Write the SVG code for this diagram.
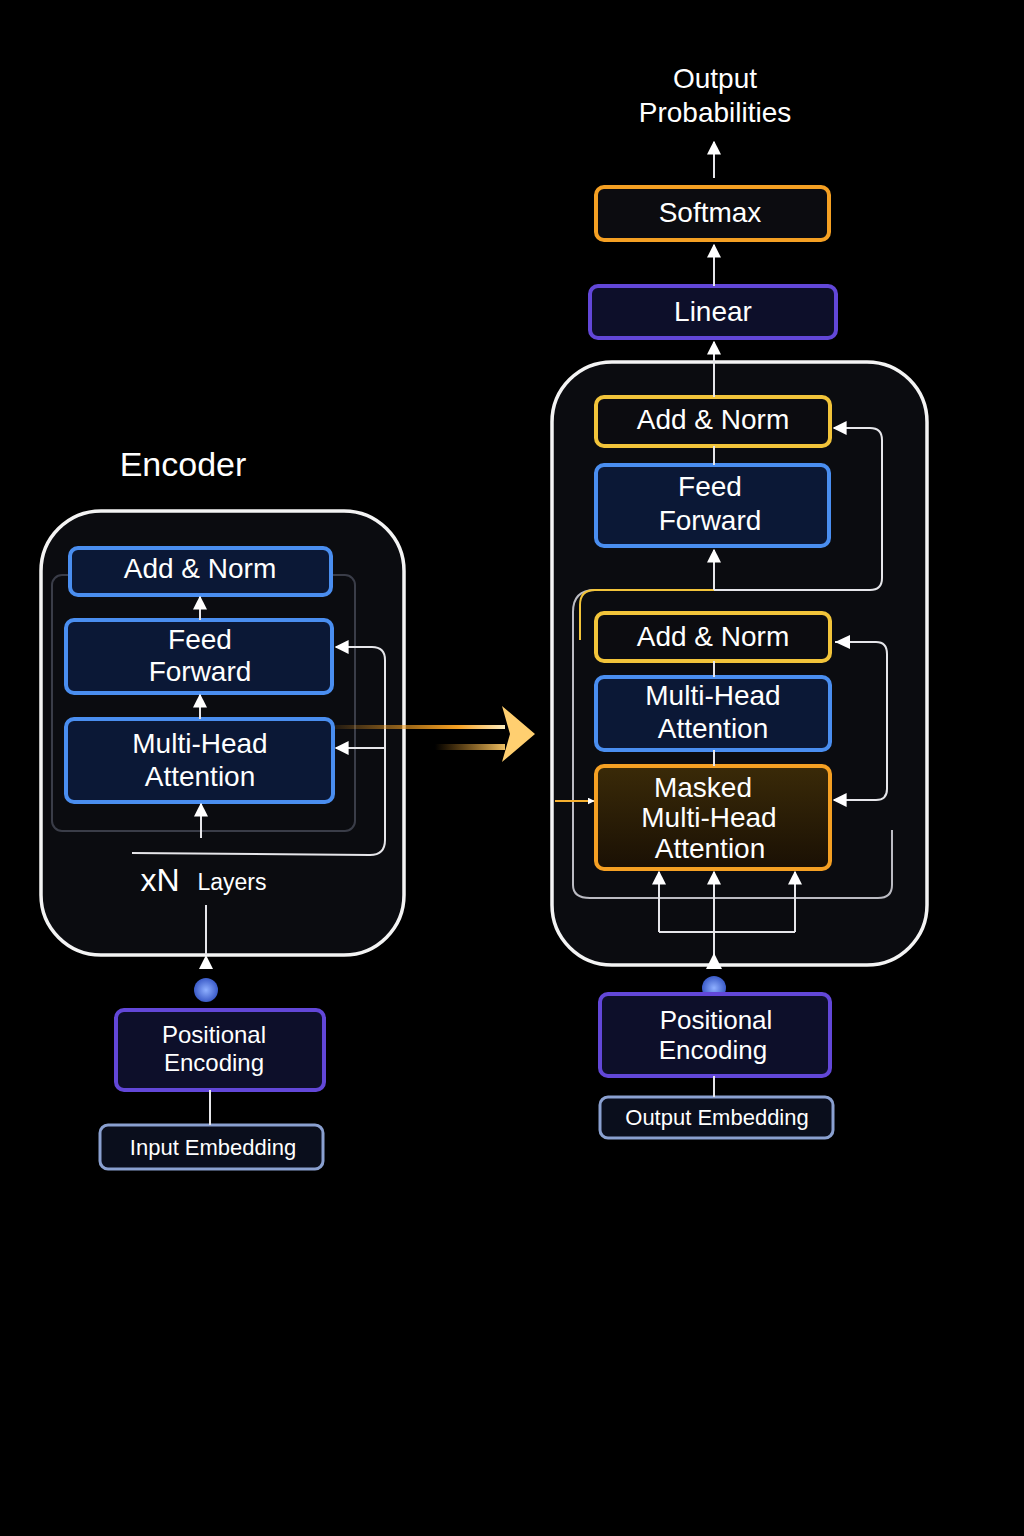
<svg xmlns="http://www.w3.org/2000/svg" width="1024" height="1536" viewBox="0 0 1024 1536">
<defs>
<style>
text{font-family:"Liberation Sans",Arial,sans-serif;fill:#fff;text-anchor:middle}
.t{font-size:28px}
.s{font-size:22px}
.blue{fill:#0b1836;stroke:#4a8ef0;stroke-width:4}
.yel{fill:#0c0c10;stroke:#f2c43a;stroke-width:4}
.org{fill:#0c0c10;stroke:#f5a023;stroke-width:4}
.pur{fill:#0d0f2a;stroke:#6247d8;stroke-width:4}
.emb{fill:#0a0e1c;stroke:#8aa0d0;stroke-width:3}
.ln{fill:none;stroke:#e6e6ea;stroke-width:2}
.outer{fill:#0b0c10;stroke:#f4f4f4;stroke-width:3.5}
</style>
<marker id="ah" viewBox="0 0 10 10" refX="9" refY="5" markerWidth="7" markerHeight="7" orient="auto-start-reverse" markerUnits="userSpaceOnUse"><path d="M0,0L10,5L0,10z" fill="#fff"/></marker>
<marker id="a2" viewBox="0 0 10 10" refX="9" refY="5" markerWidth="14" markerHeight="14" orient="auto" markerUnits="userSpaceOnUse"><path d="M0,0L10,5L0,10z" fill="#fff"/></marker>
<linearGradient id="og" gradientUnits="userSpaceOnUse" x1="335" y1="0" x2="510" y2="0"><stop offset="0" stop-color="#f5a023" stop-opacity="0.1"/><stop offset="0.7" stop-color="#f5a023"/><stop offset="1" stop-color="#fff6d0"/></linearGradient>
<linearGradient id="og2" gradientUnits="userSpaceOnUse" x1="435" y1="0" x2="510" y2="0"><stop offset="0" stop-color="#f5a023" stop-opacity="0"/><stop offset="1" stop-color="#ffd070"/></linearGradient>
<linearGradient id="mk" x1="0" y1="0" x2="0" y2="1"><stop offset="0" stop-color="#3a2a08"/><stop offset="1" stop-color="#1a1004"/></linearGradient>
<radialGradient id="dot"><stop offset="0" stop-color="#8fb0ff"/><stop offset="1" stop-color="#3b5bc8"/></radialGradient>
</defs>
<rect width="1024" height="1536" fill="#000"/>

<g id="encoder">
<text x="183" y="476" style="font-size:34px">Encoder</text>
<rect class="outer" x="41" y="511" width="363" height="444" rx="60"/>
<rect x="52" y="575" width="303" height="256" rx="10" fill="none" stroke="#3a3d48" stroke-width="2"/>
</g>
<g id="enc-addnorm"><rect class="blue" x="70" y="548" width="261" height="47" rx="8"/><text class="t" x="200" y="578">Add &amp; Norm</text></g>
<g id="enc-ff"><rect class="blue" x="66" y="620" width="266" height="73" rx="8"/><text class="t" x="200" y="649">Feed</text><text class="t" x="200" y="681">Forward</text></g>
<g id="enc-mha"><rect class="blue" x="66" y="719" width="267" height="83" rx="8"/><text class="t" x="200" y="753">Multi-Head</text><text class="t" x="200" y="786">Attention</text></g>
<g id="xn"><text x="160" y="891" style="font-size:32px">xN</text><text x="232" y="890" style="font-size:23px">Layers</text></g>
<g id="enc-pe"><circle cx="206" cy="990" r="12" fill="url(#dot)"/><rect class="pur" x="116" y="1010" width="208" height="80" rx="8"/><text x="214" y="1043" style="font-size:24px">Positional</text><text x="214" y="1071" style="font-size:24px">Encoding</text></g>
<g id="enc-emb"><rect class="emb" x="100" y="1125" width="223" height="44" rx="8"/><text class="s" x="213" y="1155">Input Embedding</text></g>

<g id="decoder">
<rect class="outer" x="552" y="362" width="375" height="603" rx="60"/>
<path d="M595,590 Q573,590 573,612 L573,885 Q573,898 590,898 L878,898 Q892,898 892,885 L892,830" fill="none" stroke="#bbbbc2" stroke-width="2"/>
<path d="M714,590 L595,590 Q580,590 580,605 L580,640" fill="none" stroke="#f2c43a" stroke-width="2"/>
</g>
<g id="out-prob"><text class="t" x="715" y="88">Output</text><text class="t" x="715" y="122">Probabilities</text></g>
<g id="softmax"><rect class="org" x="596" y="187" width="233" height="53" rx="8"/><text class="t" x="710" y="222">Softmax</text></g>
<g id="linear"><rect class="pur" x="590" y="286" width="246" height="52" rx="8"/><text class="t" x="713" y="321">Linear</text></g>
<g id="dec-addnorm1"><rect class="yel" x="596" y="397" width="234" height="49" rx="8"/><text class="t" x="713" y="429">Add &amp; Norm</text></g>
<g id="dec-ff"><rect class="blue" x="596" y="465" width="233" height="81" rx="8"/><text class="t" x="710" y="496">Feed</text><text class="t" x="710" y="530">Forward</text></g>
<g id="dec-addnorm2"><rect class="yel" x="596" y="613" width="234" height="48" rx="8"/><text class="t" x="713" y="646">Add &amp; Norm</text></g>
<g id="dec-mha"><rect class="blue" x="596" y="677" width="234" height="73" rx="8"/><text class="t" x="713" y="705">Multi-Head</text><text class="t" x="713" y="738">Attention</text></g>
<g id="dec-masked"><rect class="org" x="596" y="766" width="234" height="103" rx="8" style="fill:url(#mk)"/><text class="t" x="703" y="797">Masked</text><text class="t" x="709" y="827">Multi-Head</text><text class="t" x="710" y="858">Attention</text></g>
<g id="dec-pe"><circle cx="714" cy="988" r="12" fill="url(#dot)"/><rect class="pur" x="600" y="994" width="230" height="82" rx="8"/><text x="716" y="1029" style="font-size:26px">Positional</text><text x="713" y="1059" style="font-size:26px">Encoding</text></g>
<g id="dec-emb"><rect class="emb" x="600" y="1097" width="233" height="41" rx="8"/><text class="s" x="717" y="1125">Output Embedding</text></g>

<g id="connectors">
<path class="ln" d="M200,620 L200,597" marker-end="url(#a2)"/>
<path class="ln" d="M200,719 L200,695" marker-end="url(#a2)"/>
<path class="ln" d="M201,838 L201,804" marker-end="url(#a2)"/>
<path class="ln" d="M132,853 L370,855 Q385,855 385,840 L385,660 Q385,647 372,647 L336,647" marker-end="url(#a2)"/>
<path class="ln" d="M385,748 L336,748" marker-end="url(#a2)"/>
<path class="ln" d="M206,905 L206,955"/>
<path d="M206,955 L199,969 L213,969z" fill="#fff"/>
<path class="ln" d="M210,1090 L210,1125"/>
<path d="M335,727 L505,727" stroke="url(#og)" stroke-width="4" fill="none"/>
<path d="M435,747 L505,747" stroke="url(#og2)" stroke-width="6" fill="none"/>
<path d="M502,706 L535,734 L502,762 L510,734z" fill="#ffcf70"/>
<path class="ln" d="M714,178 L714,142" marker-end="url(#a2)"/>
<path class="ln" d="M714,286 L714,245" marker-end="url(#a2)"/>
<path class="ln" d="M714,397 L714,342" marker-end="url(#a2)"/>
<path class="ln" d="M714,446 L714,465"/>
<path class="ln" d="M714,590 L714,550" marker-end="url(#a2)"/>
<path class="ln" d="M714,590 L870,590 Q882,590 882,578 L882,440 Q882,428 870,428 L834,428" marker-end="url(#a2)"/>
<path class="ln" d="M714,661 L714,677"/>
<path class="ln" d="M714,750 L714,766"/>
<path class="ln" d="M835,642 L876,642 Q887,642 887,654 L887,789 Q887,800 876,800 L834,800" marker-end="url(#a2)"/>
<path d="M835,642 L850,635 L850,649z" fill="#fff"/>
<path d="M555,801 L594,801" stroke="#f5b030" stroke-width="2" fill="none" marker-end="url(#ah)"/>
<path class="ln" d="M714,965 L714,872" marker-end="url(#a2)"/>
<path class="ln" d="M659,932 L659,872" marker-end="url(#a2)"/>
<path class="ln" d="M795,932 L795,872" marker-end="url(#a2)"/>
<path class="ln" d="M659,932 L795,932"/>
<path d="M714,953 L706,969 L722,969z" fill="#fff"/>
<path class="ln" d="M714,1076 L714,1097"/>
</g>
</svg>
